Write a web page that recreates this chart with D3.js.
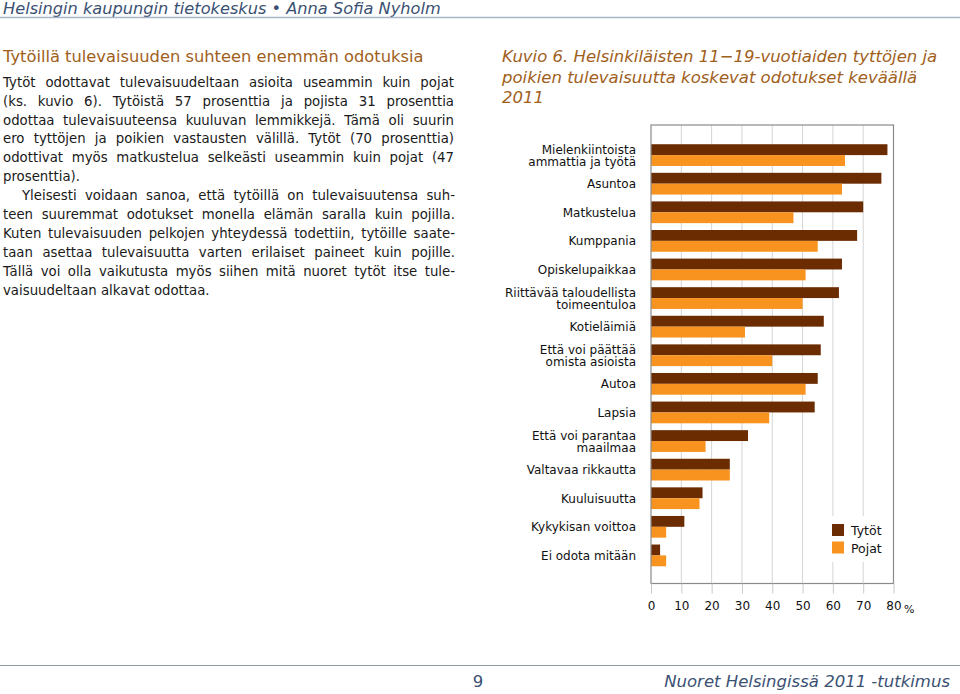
<!DOCTYPE html>
<html><head><meta charset="utf-8">
<script src="https://cdn.jsdelivr.net/npm/d3@7"></script>
<style>
html,body{margin:0;padding:0;background:#fff;}
svg{display:block;font-family:Verdana,"DejaVu Sans",sans-serif;}
</style></head>
<body>
<svg id="c" width="960" height="694"></svg>
<script>
// ---- data ----
const categories = [
  "Mielenkiintoista\nammattia ja työtä",
  "Asuntoa",
  "Matkustelua",
  "Kumppania",
  "Opiskelupaikkaa",
  "Riittävää taloudellista\ntoimeentuloa",
  "Kotieläimiä",
  "Että voi päättää\nomista asioista",
  "Autoa",
  "Lapsia",
  "Että voi parantaa\nmaailmaa",
  "Valtavaa rikkautta",
  "Kuuluisuutta",
  "Kykykisan voittoa",
  "Ei odota mitään"
];
const tytot = [78, 76, 70, 68, 63, 62, 57, 56, 55, 54, 32, 26, 17, 11, 3];
const pojat = [64, 63, 47, 55, 51, 50, 31, 40, 51, 39, 18, 26, 16, 5, 5];
const seriesNames = ["Tytöt", "Pojat"];
const tickValues = [0, 10, 20, 30, 40, 50, 60, 70, 80];

const headerText = "Helsingin kaupungin tietokeskus • Anna Sofia Nyholm";
const leftHeading = "Tytöillä tulevaisuuden suhteen enemmän odotuksia";
const para1 = [
  "Tytöt odottavat tulevaisuudeltaan asioita useammin kuin pojat",
  "(ks. kuvio 6). Tytöistä 57 prosenttia ja pojista 31 prosenttia",
  "odottaa tulevaisuuteensa kuuluvan lemmikkejä. Tämä oli suurin",
  "ero tyttöjen ja poikien vastausten välillä. Tytöt (70 prosenttia)",
  "odottivat myös matkustelua selkeästi useammin kuin pojat (47",
  "prosenttia)."
];
const para2 = [
  "Yleisesti voidaan sanoa, että tytöillä on tulevaisuutensa suh-",
  "teen suuremmat odotukset monella elämän saralla kuin pojilla.",
  "Kuten tulevaisuuden pelkojen yhteydessä todettiin, tytöille saate-",
  "taan asettaa tulevaisuutta varten erilaiset paineet kuin pojille.",
  "Tällä voi olla vaikutusta myös siihen mitä nuoret tytöt itse tule-",
  "vaisuudeltaan alkavat odottaa."
];
const chartTitle = [
  "Kuvio 6. Helsinkiläisten 11\u221219-vuotiaiden tyttöjen ja",
  "poikien tulevaisuutta koskevat odotukset keväällä",
  "2011"
];
const footerPage = "9";
const footerText = "Nuoret Helsingissä 2011 -tutkimus";

// ---- styles ----
const colT = "#6b2c02", colP = "#f7931e";
const blueText = "#3b5173";
const brownText = "#a0601c";

const svg = d3.select("#c");

// header
svg.append("text").attr("x", 3).attr("y", 14)
  .attr("font-size", 16.2).attr("font-style", "italic").attr("fill", blueText)
  .text(headerText);
svg.append("line").attr("x1", 0).attr("x2", 960).attr("y1", 17.5).attr("y2", 17.5)
  .attr("stroke", "#a9b6c9").attr("stroke-width", 1.5);

// left column
svg.append("text").attr("x", 3).attr("y", 62)
  .attr("font-size", 16.3).attr("fill", brownText).text(leftHeading);

function justifyLine(g, str, x0, x1, yy, justify) {
  const words = str.split(" ");
  const t = g.append("text").attr("y", yy).attr("font-size", 13.3).attr("fill", "#1a1a1a");
  if (!justify) { t.attr("x", x0).text(str); return; }
  const spans = words.map(w => t.append("tspan").text(w));
  const widths = spans.map(s => s.node().getComputedTextLength());
  const total = d3.sum(widths);
  let gap = (x1 - x0 - total) / (words.length - 1);
  let scale = 1;
  if (gap < 3) { // too tight: compress glyphs slightly
    scale = (x1 - x0 - 3 * (words.length - 1)) / total;
    gap = 3;
  }
  let xx = x0;
  spans.forEach((s, i) => {
    s.attr("x", xx);
    if (scale < 1) s.attr("textLength", widths[i] * scale).attr("lengthAdjust", "spacingAndGlyphs");
    xx += widths[i] * scale + gap;
  });
}
const tg = svg.append("g");
const lh = 18.9, base = 86.7;
para1.forEach((l, i) => justifyLine(tg, l, 3, 454, base + i * lh, i < para1.length - 1));
para2.forEach((l, i) => justifyLine(tg, l, i === 0 ? 22 : 3, 455, base + (i + 6) * lh, i < para2.length - 1));

// chart title
chartTitle.forEach((l, i) => {
  svg.append("text").attr("x", 502).attr("y", 62 + i * 20.5)
    .attr("font-size", 16.5).attr("font-style", "italic").attr("fill", brownText).text(l);
});

// chart
const pLeft = 651, pRight = 893.5, pTop = 125, pBottom = 583.5;
const x = d3.scaleLinear().domain([0, 80]).range([pLeft, pRight]);
const y = d3.scaleBand().domain(categories).range([126.5, 584]).paddingInner(0.24).paddingOuter(0.62);
const ch = svg.append("g");

// grid
ch.selectAll("line.grid").data(tickValues.slice(1, -1)).join("line")
  .attr("x1", d => x(d)).attr("x2", d => x(d)).attr("y1", pTop).attr("y2", pBottom)
  .attr("stroke", "#d4d4d4").attr("stroke-width", 1);

// bars
const bh = y.bandwidth() / 2;
ch.selectAll("rect.t").data(categories).join("rect")
  .attr("x", x(0)).attr("y", d => y(d))
  .attr("width", (d, i) => x(tytot[i]) - x(0)).attr("height", bh).attr("fill", colT);
ch.selectAll("rect.p").data(categories).join("rect")
  .attr("x", x(0)).attr("y", d => y(d) + bh)
  .attr("width", (d, i) => x(pojat[i]) - x(0)).attr("height", bh).attr("fill", colP);

// box
ch.append("rect").attr("x", pLeft).attr("y", pTop).attr("width", pRight - pLeft).attr("height", pBottom - pTop)
  .attr("fill", "none").attr("stroke", "#8a8a8a").attr("stroke-width", 1.2);

// x axis
const xAxis = d3.axisBottom(x).tickValues(tickValues).tickSize(10).tickPadding(8);
const ax = ch.append("g").attr("transform", `translate(0,${pBottom})`).call(xAxis);
ax.select(".domain").remove();
ax.selectAll(".tick line").attr("stroke", "#c8c8c8");
ax.selectAll(".tick text").attr("font-size", 12).attr("font-family", 'Verdana,"DejaVu Sans",sans-serif').attr("fill", "#111");
ch.append("text").attr("x", 904).attr("y", 613).attr("font-size", 11).attr("fill", "#111").text("%");

// category labels
categories.forEach(c => {
  const lines = c.split("\n");
  const cy = y(c) + y.bandwidth() / 2;
  const t = ch.append("text").attr("text-anchor", "end").attr("font-size", 12).attr("fill", "#111");
  if (lines.length === 1) {
    t.append("tspan").attr("x", 636).attr("y", cy + 4.5).text(lines[0]);
  } else {
    t.append("tspan").attr("x", 636).attr("y", cy - 1).text(lines[0]);
    t.append("tspan").attr("x", 636).attr("y", cy + 10.5).text(lines[1]);
  }
});

// legend
const lg = ch.append("g");
lg.append("rect").attr("x", 826).attr("y", 516).attr("width", 66).attr("height", 46).attr("fill", "#fff");
[colT, colP].forEach((c, i) => {
  lg.append("rect").attr("x", 832).attr("y", 524 + i * 17.5).attr("width", 12).attr("height", 12).attr("fill", c);
  lg.append("text").attr("x", 851).attr("y", 535 + i * 17.5).attr("font-size", 12.5).attr("fill", "#111").text(seriesNames[i]);
});

// footer
svg.append("line").attr("x1", 0).attr("x2", 960).attr("y1", 665.5).attr("y2", 665.5)
  .attr("stroke", "#8f9aab").attr("stroke-width", 1.2);
svg.append("text").attr("x", 478).attr("y", 687).attr("text-anchor", "middle")
  .attr("font-size", 16.5).attr("fill", blueText).text(footerPage);
svg.append("text").attr("x", 950).attr("y", 687).attr("text-anchor", "end")
  .attr("font-size", 16.5).attr("font-style", "italic").attr("fill", blueText).text(footerText);
</script>
</body></html>
